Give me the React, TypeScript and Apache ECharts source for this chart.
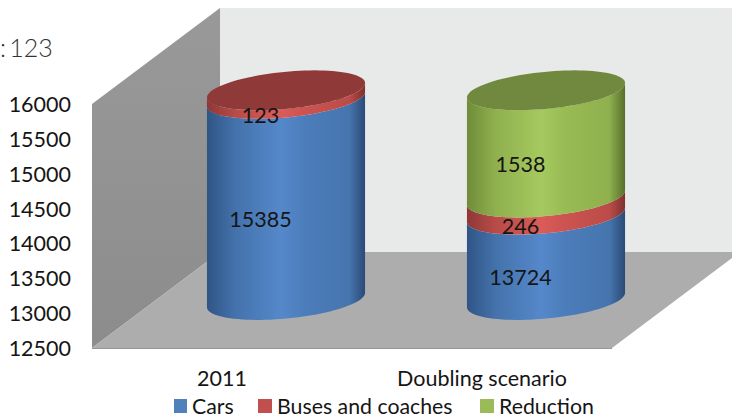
import React, { useEffect, useRef } from "react";
import * as echarts from "echarts";

const categories = ["2011", "Doubling scenario"];
const seriesNames = ["Cars", "Buses and coaches", "Reduction"];
const cars = [15385, 13724];
const buses = [123, 246];
const reduction = [null, 1538];
const yMin = 12500;
const yMax = 16000;
const yStep = 500;

const legendColors = ["#4f81bd", "#c0504d", "#9bbb59"];
const legendLefts = [174, 258, 480];
const sideStops = [
  ["#2f5585", "#4472ab", "#5588cb", "#4c7dba", "#4675ae", "#2b4a76"],
  ["#8e3836", "#b84b48", "#da5c58", "#cc5350", "#bb4c49", "#7e312f"],
  ["#6f8c39", "#8fb04e", "#a6c95f", "#99bb54", "#8fb04e", "#586f2c"],
];
const capColors = ["#41699b", "#8f3a38", "#71893f"];

const FONT = "Lato, Carlito, 'Open Sans', sans-serif";
const FS = 21.5;
const DX = 64;
const DY = -48;
const A = 79.4;
const B = 18.5;
const TH = (-5.5 * Math.PI) / 180;
const LABEL_DX = -25.5;
const LABEL_DY = 20;

function ellipsePoint(cx: number, cy: number, t: number) {
  return [
    cx + A * Math.cos(t) * Math.cos(TH) - B * Math.sin(t) * Math.sin(TH),
    cy + A * Math.cos(t) * Math.sin(TH) + B * Math.sin(t) * Math.cos(TH),
  ];
}
const T0 = Math.atan2(-B * Math.sin(TH), A * Math.cos(TH));
function frontArc(cx: number, cy: number, reverse: boolean) {
  const pts: number[][] = [];
  for (let i = 0; i <= 48; i++) {
    const t = T0 + (Math.PI * (reverse ? 48 - i : i)) / 48;
    pts.push(ellipsePoint(cx, cy, t));
  }
  return pts;
}
function fullEllipse(cx: number, cy: number) {
  const pts: number[][] = [];
  for (let i = 0; i < 96; i++) pts.push(ellipsePoint(cx, cy, (Math.PI * 2 * i) / 96));
  return pts;
}

const stacks = [cars, buses, reduction];
function buildData(s: number) {
  const rows: any[] = [];
  categories.forEach((_, c) => {
    const v = stacks[s][c];
    if (v == null) return;
    let start = yMin;
    if (s > 0) {
      start = 0;
      for (let k = 0; k < s; k++) start += stacks[k][c] || 0;
    }
    const end = (s > 0 ? start : 0) + v;
    let isTop = 1;
    for (let k = s + 1; k < stacks.length; k++) if (stacks[k][c] != null) isTop = 0;
    rows.push([c, start, end, isTop, v]);
  });
  return rows;
}

function makeRender(s: number) {
  return (_params: any, api: any) => {
    const c = api.value(0);
    const p0 = api.coord([c, api.value(1)]);
    const p1 = api.coord([c, api.value(2)]);
    const cx = p0[0] + DX;
    const y0 = p0[1] + DY;
    const y1 = p1[1] + DY;
    const n = sideStops[s].length;
    const children: any[] = [
      {
        type: "polygon",
        shape: { points: [...frontArc(cx, y0, false), ...frontArc(cx, y1, true)] },
        style: {
          fill: new echarts.graphic.LinearGradient(0, 0, 1, 0,
            sideStops[s].map((color, i) => ({
              offset: [0, 0.18, 0.47, 0.62, 0.9, 1][i] ?? i / (n - 1),
              color,
            }))),
        },
        z2: 1 + s,
      },
    ];
    if (api.value(3)) {
      children.push({
        type: "polygon",
        shape: { points: fullEllipse(cx, y1) },
        style: { fill: capColors[s] },
        z2: 10,
      });
    }
    children.push({
      type: "text",
      z2: 100,
      style: {
        text: String(api.value(4)),
        x: cx + LABEL_DX,
        y: (y0 + y1) / 2 + LABEL_DY,
        align: "center",
        verticalAlign: "middle",
        fill: "#151515",
        font: `${FS}px ${FONT}`,
      },
    });
    return { type: "group", children };
  };
}

export default function App() {
  const ref = useRef<HTMLDivElement>(null);
  useEffect(() => {
    document.body.style.margin = "0";
    const chart = echarts.init(ref.current!, undefined, { renderer: "svg" });
    chart.setOption({
      animation: false,
      color: legendColors,
      backgroundColor: "#ffffff",
      textStyle: { fontFamily: FONT },
      grid: { left: 92, right: 120, top: 104, height: 244 },
      graphic: [
        {
          type: "polygon", z: -5,
          shape: { points: [[220, 8], [732, 8], [732, 252], [220, 252]] },
          style: { fill: "#e8e9e9" },
        },
        {
          type: "polygon", z: -4,
          shape: { points: [[92, 104], [220, 8], [220, 252], [92, 348]] },
          style: {
            fill: new echarts.graphic.LinearGradient(0, 0, 0, 1, [
              { offset: 0, color: "#999999" },
              { offset: 1, color: "#8c8c8c" },
            ]),
          },
        },
        {
          type: "polygon", z: -3,
          shape: { points: [[92, 348], [220, 252], [732, 252], [732, 258], [612, 348]] },
          style: { fill: "#adadad" },
        },
        {
          type: "line", z: -2,
          shape: { x1: 92, y1: 348.5, x2: 612, y2: 348.5 },
          style: { stroke: "#969696", lineWidth: 1 },
        },
        {
          type: "text",
          style: {
            text: ":\u2009123",
            x: 0,
            y: 47,
            verticalAlign: "middle",
            fill: "#333333",
            font: `300 25px ${FONT}`,
          },
        },
      ],
      xAxis: {
        type: "category",
        data: categories,
        axisLine: { show: false },
        axisTick: { show: false },
        splitLine: { show: false },
        axisLabel: { color: "#151515", fontSize: FS, margin: 19, fontFamily: FONT, interval: 0 },
      },
      yAxis: {
        type: "value",
        min: yMin,
        max: yMax,
        interval: yStep,
        axisLine: { show: false },
        axisTick: { show: false },
        splitLine: { show: false },
        axisLabel: {
          color: "#151515",
          fontSize: FS,
          margin: 21,
          fontFamily: FONT,
          formatter: (v: number) => String(v),
        },
      },
      legend: seriesNames.map((name, i) => ({
        left: legendLefts[i],
        top: 395,
        padding: 0,
        itemWidth: i === 0 ? 13 : 14,
        itemHeight: 14,
        icon: "rect",
        textStyle: { color: "#151515", fontSize: 21.3, lineHeight: 22, fontFamily: FONT },
        data: [name],
      })),
      series: seriesNames.map((name, s) => ({
        type: "custom",
        name,
        coordinateSystem: "cartesian2d",
        renderItem: makeRender(s),
        encode: { x: 0, y: [1, 2] },
        itemStyle: { color: legendColors[s] },
        data: buildData(s),
      })),
    });
    return () => chart.dispose();
  }, []);
  return <div ref={ref} style={{ width: 732, height: 418 }} />;
}
